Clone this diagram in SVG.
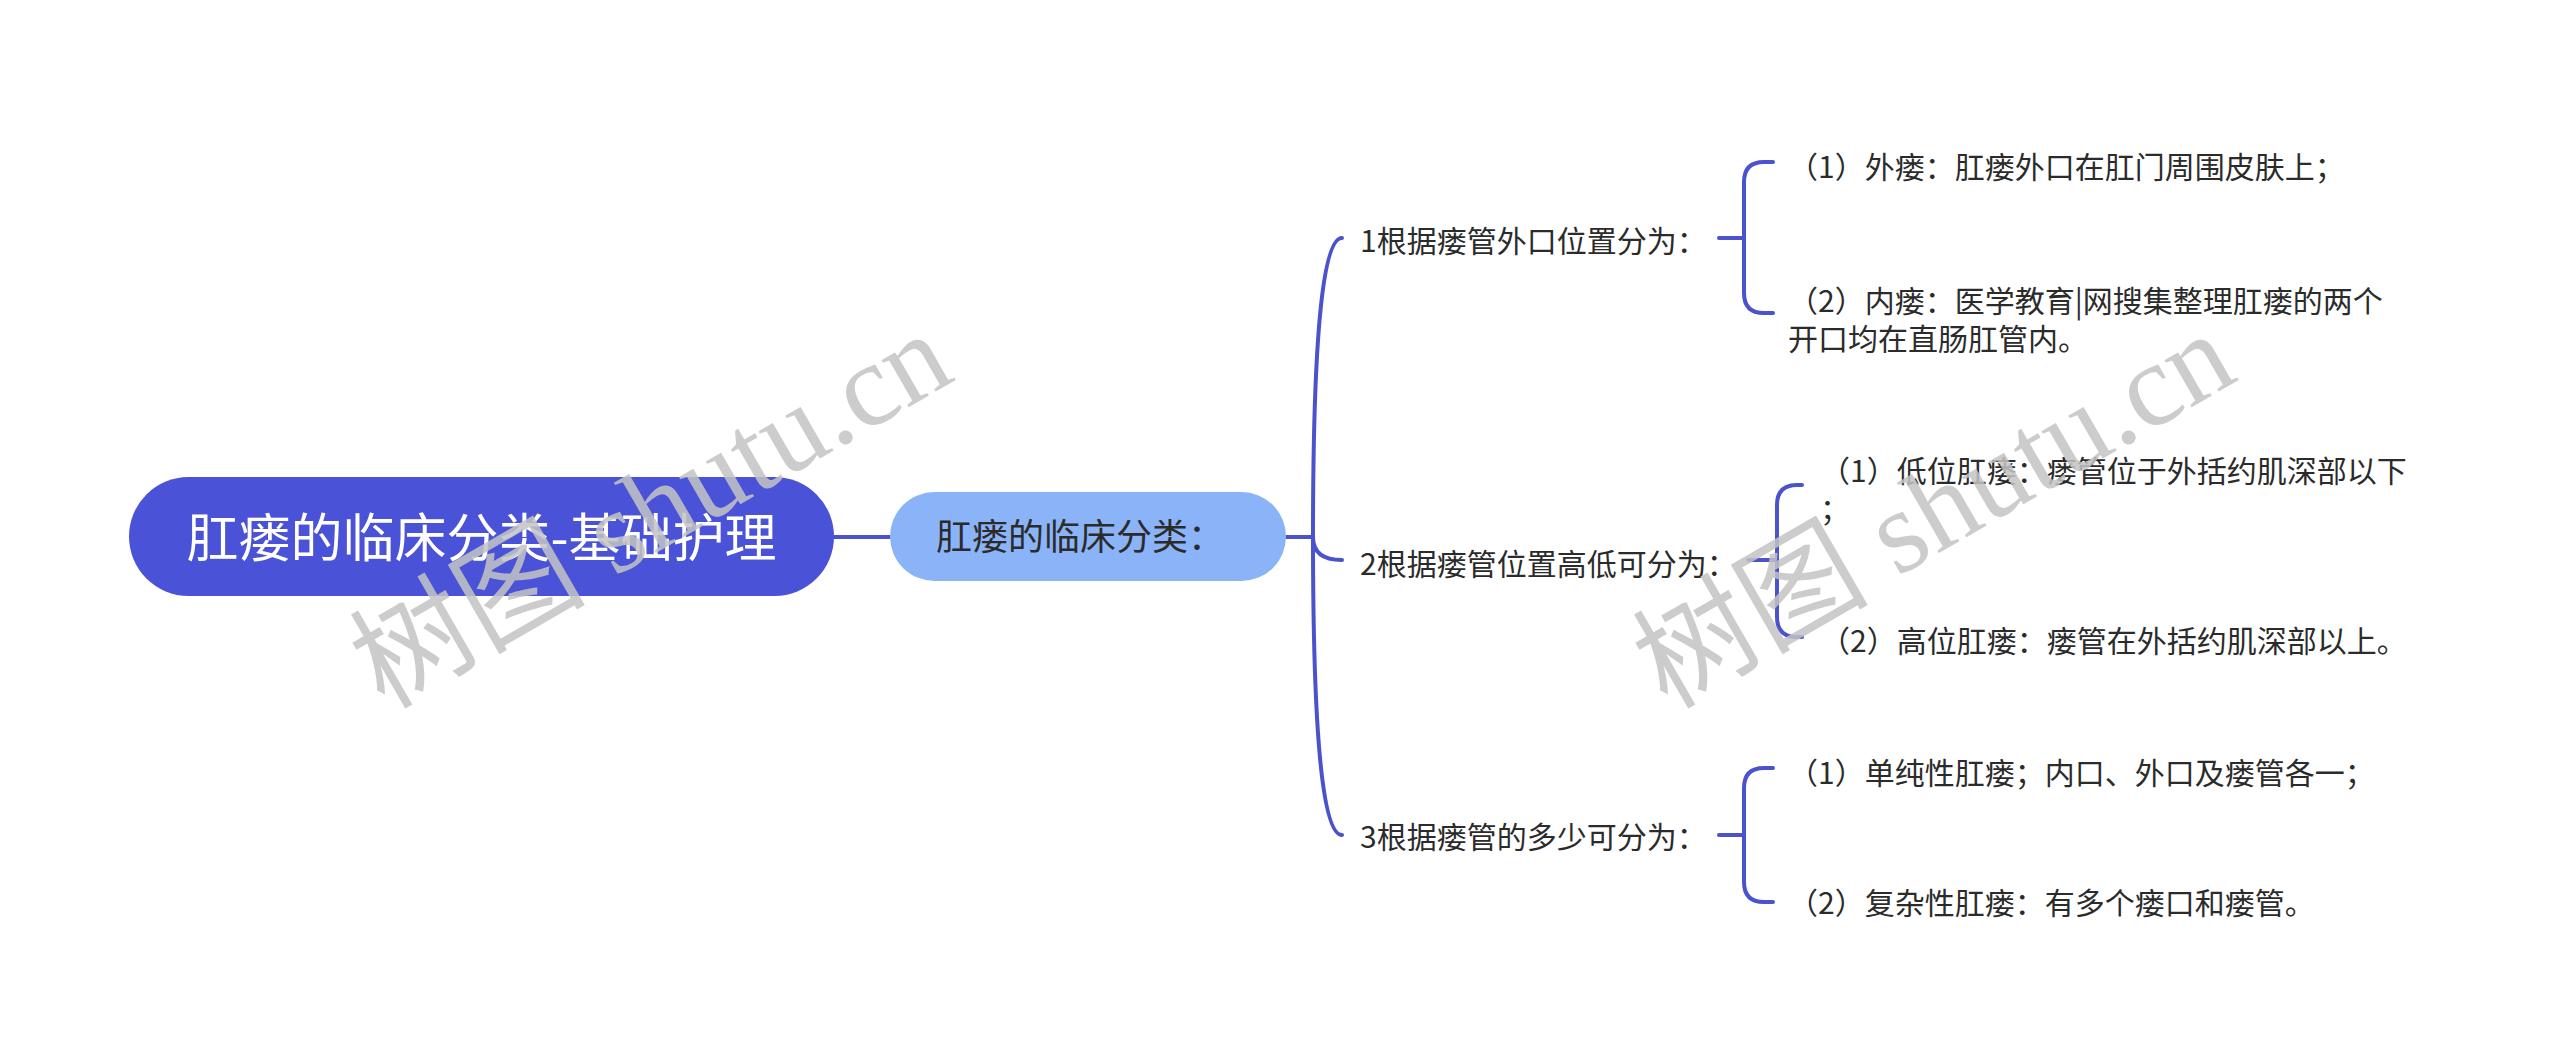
<svg xmlns="http://www.w3.org/2000/svg" width="2560" height="1063" viewBox="0 0 2560 1063">
<style>
.cn{font-family:"Noto Sans CJK SC","Noto Sans",sans-serif}
.root-t{font-size:52px;fill:#ffffff}
.mid-t{font-size:36px;fill:#2b2b2b}
.t30{font-size:30px;fill:#2b2b2b}
.ln{fill:none;stroke:#4a52cc;stroke-width:4;stroke-linecap:round}
.wm{font-family:"Liberation Serif","Noto Sans CJK SC",serif;font-size:118px;fill:#c4c4c4;opacity:0.85}
</style>
<rect width="2560" height="1063" fill="#ffffff"/>
<g id="connectors">
<path class="ln" d="M834 537 H890"/>
<path class="ln" d="M1286 537 H1313"/>
<path class="ln" d="M1313 537 Q1313 238 1342 238"/>
<path class="ln" d="M1313 537 Q1313 560 1342 560"/>
<path class="ln" d="M1313 537 Q1313 835 1342 835"/>
<path class="ln" d="M1719 238 H1744"/>
<path class="ln" d="M1773 162 H1764 Q1744 162 1744 182 V293 Q1744 313 1764 313 H1773"/>
<path class="ln" d="M1748 560 H1777"/>
<path class="ln" d="M1802 485 H1797 Q1777 485 1777 505 V617 Q1777 637 1797 637 H1802"/>
<path class="ln" d="M1719 835 H1744"/>
<path class="ln" d="M1773 768 H1764 Q1744 768 1744 788 V882 Q1744 902 1764 902 H1773"/>
</g>
<g id="root">
<rect x="129" y="477" width="705" height="119" rx="59.5" fill="#4a52d8"/>
<text class="cn root-t" x="481.5" y="557" text-anchor="middle">肛瘘的临床分类-基础护理</text>
</g>
<g id="mid">
<rect x="890" y="492" width="396" height="89" rx="44.5" fill="#8bb4f8"/>
<text class="cn mid-t" x="936" y="550">肛瘘的临床分类：</text>
</g>
<g id="b1">
<text class="cn t30" x="1360" y="251.5">1根据瘘管外口位置分为：</text>
</g>
<g id="b2">
<text class="cn t30" x="1360" y="574.5">2根据瘘管位置高低可分为：</text>
</g>
<g id="b3">
<text class="cn t30" x="1360" y="848">3根据瘘管的多少可分为：</text>
</g>
<g id="l11">
<text class="cn t30" x="1788" y="177.5">（1）外瘘：肛瘘外口在肛门周围皮肤上；</text>
</g>
<g id="l12">
<text class="cn t30" x="1788" y="311.5">（2）内瘘：医学教育|网搜集整理肛瘘的两个</text>
<text class="cn t30" x="1788" y="349.5">开口均在直肠肛管内。</text>
</g>
<g id="l21">
<text class="cn t30" x="1820" y="481.5">（1）低位肛瘘：瘘管位于外括约肌深部以下</text>
<text class="cn t30" x="1820" y="519.5">；</text>
</g>
<g id="l22">
<text class="cn t30" x="1820" y="651.5">（2）高位肛瘘：瘘管在外括约肌深部以上。</text>
</g>
<g id="l31">
<text class="cn t30" x="1788" y="783.5">（1）单纯性肛瘘；内口、外口及瘘管各一；</text>
</g>
<g id="l32">
<text class="cn t30" x="1788" y="913.5">（2）复杂性肛瘘：有多个瘘口和瘘管。</text>
</g>
<g id="watermark">
<text class="wm" x="384" y="710" transform="rotate(-30 384 710)">树图 shutu.cn</text>
<text class="wm" x="1667" y="710" transform="rotate(-30 1667 710)">树图 shutu.cn</text>
</g>
</svg>
